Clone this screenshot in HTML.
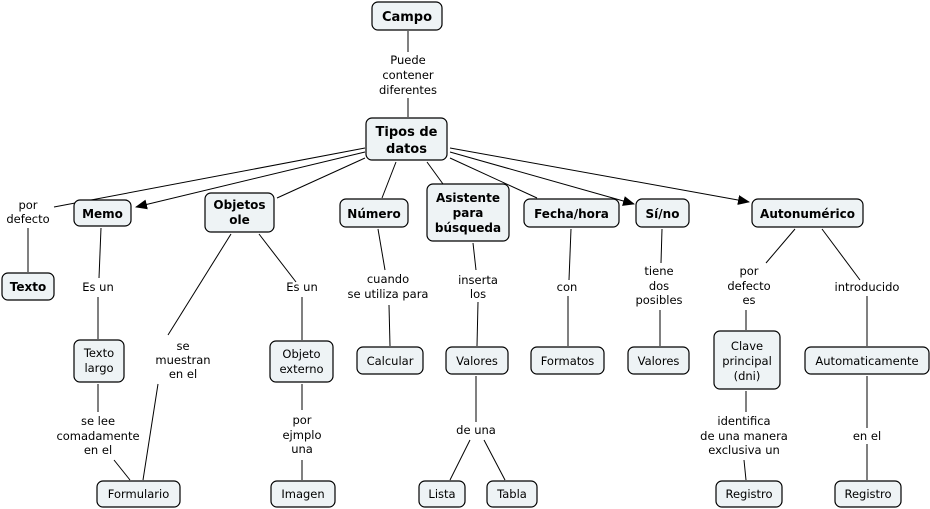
<!DOCTYPE html>
<html><head><meta charset="utf-8"><style>
html,body{margin:0;padding:0;background:#fff;}
svg{display:block;}
text{font-family:"DejaVu Sans","Liberation Sans",sans-serif;font-size:11.5px;fill:#000;text-anchor:middle;}
.b{font-weight:bold;font-size:12px;}
rect{fill:#eef3f5;stroke:#000;stroke-width:1.2;}
line{stroke:#000;stroke-width:1;}
</style></head><body>
<svg width="930" height="509" viewBox="0 0 930 509">
<defs><marker id="a" markerWidth="12" markerHeight="10" refX="11" refY="5" orient="auto" markerUnits="userSpaceOnUse"><path d="M0,0 L12,5 L0,10 z" fill="#000"/></marker></defs>
<!-- lines -->
<line x1="408" y1="31" x2="408" y2="52"/><line x1="408" y1="98" x2="408" y2="117"/>
<line x1="365" y1="148" x2="54" y2="207"/>
<line x1="365" y1="152" x2="136" y2="207" marker-end="url(#a)"/>
<line x1="365" y1="158" x2="277" y2="198"/>
<line x1="396" y1="162" x2="382" y2="198"/>
<line x1="427" y1="162" x2="443" y2="184"/>
<line x1="450" y1="158" x2="537" y2="198"/>
<line x1="450" y1="152" x2="634" y2="204" marker-end="url(#a)"/>
<line x1="450" y1="148" x2="749" y2="202" marker-end="url(#a)"/>
<line x1="28" y1="228" x2="28" y2="272"/>
<line x1="101" y1="228" x2="99" y2="278"/><line x1="98" y1="297" x2="98" y2="339"/>
<line x1="98" y1="384" x2="98" y2="412"/><line x1="114" y1="460" x2="130" y2="480"/>
<line x1="231" y1="234" x2="168" y2="335"/><line x1="158" y1="384" x2="143" y2="480"/>
<line x1="259" y1="234" x2="296" y2="282"/><line x1="302" y1="297" x2="302" y2="340"/>
<line x1="302" y1="384" x2="302" y2="410"/><line x1="302" y1="460" x2="302" y2="480"/>
<line x1="378" y1="229" x2="385" y2="270"/><line x1="389" y1="305" x2="390" y2="346"/>
<line x1="473" y1="243" x2="476" y2="270"/><line x1="478" y1="302" x2="477" y2="346"/>
<line x1="476" y1="376" x2="476" y2="422"/><line x1="470" y1="440" x2="450" y2="480"/><line x1="484" y1="440" x2="505" y2="480"/>
<line x1="571" y1="229" x2="569" y2="280"/><line x1="568" y1="296" x2="568" y2="346"/>
<line x1="662" y1="229" x2="661" y2="263"/><line x1="660" y1="310" x2="660" y2="346"/>
<line x1="795" y1="229" x2="766" y2="263"/><line x1="746" y1="310" x2="746" y2="330"/>
<line x1="822" y1="229" x2="860" y2="280"/><line x1="867" y1="296" x2="867" y2="346"/>
<line x1="746" y1="391" x2="746" y2="412"/><line x1="744" y1="460" x2="746" y2="480"/>
<line x1="867" y1="376" x2="867" y2="428"/><line x1="867" y1="444" x2="867" y2="480"/>
<!-- nodes -->
<rect x="372" y="2" width="70" height="28" rx="6"/><text class="b" x="407" y="21" style="font-size:13px">Campo</text>
<rect x="366" y="118" width="81" height="42" rx="6"/><text class="b" x="406.5" y="136" style="font-size:13px">Tipos de</text><text class="b" x="406.5" y="153" style="font-size:13px">datos</text>
<rect x="74" y="200" width="57" height="26" rx="6"/><text class="b" x="102.5" y="218">Memo</text>
<rect x="205" y="193" width="69" height="39" rx="6"/><text class="b" x="239.5" y="209">Objetos</text><text class="b" x="239.5" y="224">ole</text>
<rect x="340" y="199" width="68" height="28" rx="6"/><text class="b" x="374" y="218">Número</text>
<rect x="427" y="184" width="82" height="57" rx="6"/><text class="b" x="468" y="202">Asistente</text><text class="b" x="468" y="217">para</text><text class="b" x="468" y="232">búsqueda</text>
<rect x="524" y="199" width="95" height="28" rx="6"/><text class="b" x="571.5" y="218">Fecha/hora</text>
<rect x="636" y="199" width="53" height="28" rx="6"/><text class="b" x="662.5" y="218">Sí/no</text>
<rect x="752" y="199" width="111" height="28" rx="6"/><text class="b" x="807.5" y="218">Autonumérico</text>
<rect x="2" y="273" width="52" height="27" rx="6"/><text class="b" x="28" y="291">Texto</text>
<rect x="74" y="340" width="50" height="42" rx="6"/><text x="99" y="357">Texto</text><text x="99" y="372">largo</text>
<rect x="270" y="341" width="63" height="41" rx="6"/><text x="301.5" y="358">Objeto</text><text x="301.5" y="373">externo</text>
<rect x="357" y="347" width="66" height="27" rx="6"/><text x="390" y="365">Calcular</text>
<rect x="446" y="347" width="62" height="27" rx="6"/><text x="477" y="365">Valores</text>
<rect x="531" y="347" width="73" height="27" rx="6"/><text x="567.5" y="365">Formatos</text>
<rect x="628" y="347" width="61" height="27" rx="6"/><text x="658.5" y="365">Valores</text>
<rect x="714" y="331" width="66" height="58" rx="6"/><text x="747" y="350">Clave</text><text x="747" y="365">principal</text><text x="747" y="380">(dni)</text>
<rect x="805" y="347" width="124" height="27" rx="6"/><text x="867" y="365">Automaticamente</text>
<rect x="97" y="481" width="83" height="26" rx="6"/><text x="138.5" y="498">Formulario</text>
<rect x="271" y="481" width="64" height="26" rx="6"/><text x="303" y="498">Imagen</text>
<rect x="419" y="481" width="46" height="26" rx="6"/><text x="442" y="498">Lista</text>
<rect x="487" y="481" width="50" height="26" rx="6"/><text x="512" y="498">Tabla</text>
<rect x="716" y="481" width="66" height="26" rx="6"/><text x="749" y="498">Registro</text>
<rect x="835" y="481" width="66" height="26" rx="6"/><text x="868" y="498">Registro</text>
<!-- labels -->
<text x="408" y="64">Puede</text><text x="408" y="79">contener</text><text x="408" y="94">diferentes</text>
<text x="28" y="209">por</text><text x="28" y="223">defecto</text>
<text x="98" y="291">Es un</text>
<text x="183" y="350">se</text><text x="183" y="364">muestran</text><text x="183" y="378">en el</text>
<text x="302" y="291">Es un</text>
<text x="388" y="283">cuando</text><text x="388" y="298">se utiliza para</text>
<text x="478" y="284">inserta</text><text x="478" y="298">los</text>
<text x="567" y="291">con</text>
<text x="659" y="275">tiene</text><text x="659" y="290">dos</text><text x="659" y="304">posibles</text>
<text x="749" y="275">por</text><text x="749" y="290">defecto</text><text x="749" y="304">es</text>
<text x="867" y="291">introducido</text>
<text x="98" y="425">se lee</text><text x="98" y="440">comadamente</text><text x="98" y="454">en el</text>
<text x="302" y="424">por</text><text x="302" y="439">ejmplo</text><text x="302" y="453">una</text>
<text x="476" y="434">de una</text>
<text x="744" y="425">identifica</text><text x="744" y="440">de una manera</text><text x="744" y="454">exclusiva un</text>
<text x="867" y="440">en el</text>
</svg>
</body></html>
